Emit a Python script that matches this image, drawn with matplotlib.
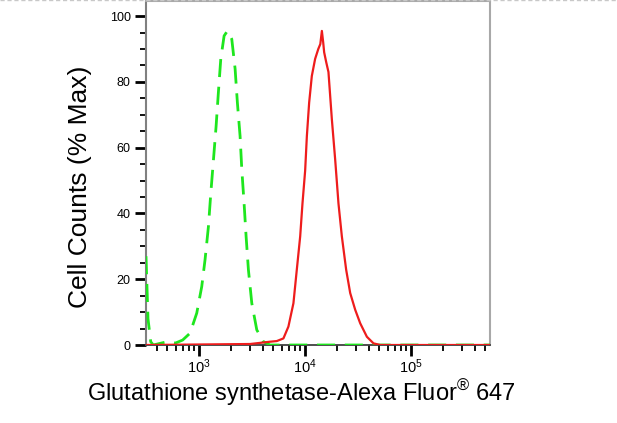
import numpy as np
import matplotlib
matplotlib.use("Agg")
import matplotlib.pyplot as plt
from matplotlib.ticker import LogLocator, NullFormatter, FixedLocator, MultipleLocator
from matplotlib.lines import Line2D

plt.rcParams['font.family'] = ['Liberation Sans', 'DejaVu Sans']
plt.rcParams['mathtext.fontset'] = 'custom'
plt.rcParams['mathtext.rm'] = 'Liberation Sans'
plt.rcParams['mathtext.it'] = 'Liberation Sans'
plt.rcParams['mathtext.bf'] = 'Liberation Sans:bold'

# Isotype / control (green dashed)
green_x = [316, 330, 350, 370, 430, 500, 600, 700, 822, 951, 1060, 1139, 1225, 1289, 1364,
           1447, 1520, 1602, 1722, 1850, 2034, 2186, 2297, 2436, 2528, 2658, 2776,
           2918, 3141, 3500, 4042, 4677, 553000]
green_y = [27, 8, 1, 0, 0.5, 1, 0.6, 1.5, 3.6, 9.7, 17.8, 26, 36, 46, 56,
           66.5, 76.7, 87, 94, 95.5, 93, 84, 73.7, 63.5, 53.4, 43, 33,
           22.9, 12.7, 4.6, 1, 0, 0]

# Antibody stained (red solid)
red_x = [316, 3026, 4677, 5408, 6240, 6955, 7755, 8350, 8978, 9436, 10000, 10380,
         10910, 11560, 12420, 13300, 13900, 14380, 14800, 15110, 15800, 16590, 17860,
         19190, 20620, 22190, 24360, 26590, 29650, 33050, 38200, 44080, 51000, 553000]
red_y = [0, 0.3, 1, 1.2, 2, 5.6, 12.7, 23, 33, 43, 53, 63.5,
         73.7, 81.8, 87, 90, 91.5, 95.5, 92, 89, 86, 83, 68.6,
         56.4, 43, 33, 22.9, 15.8, 10.7, 6.6, 2.5, 0.5, 0, 0]

y_ticks = [0, 20, 40, 60, 80, 100]
x_major = [1e3, 1e4, 1e5]
x_labels = [r'$10^3$', r'$10^4$', r'$10^5$']

W, H = 617, 423
fig = plt.figure(figsize=(W/100, H/100), dpi=100)
ax = fig.add_axes([146/W, 1 - 345/H, (490-146)/W, (345-1)/H])

ax.plot(green_x, green_y, color='#1ee61e', lw=2.0, ls=(0, (6.5, 3.5)), zorder=3)
ax.plot(red_x, red_y, color='#ee1c1c', lw=1.6, zorder=4)

ax.set_xscale('log')
ax.set_xlim(316, 553000)
ax.set_ylim(0, 104.6)

ax.xaxis.set_major_locator(FixedLocator(x_major))
ax.set_xticklabels(x_labels)
ax.xaxis.set_minor_locator(LogLocator(base=10, subs=np.arange(2, 10)))
ax.xaxis.set_minor_formatter(NullFormatter())

ax.yaxis.set_major_locator(FixedLocator(y_ticks))
ax.set_yticklabels([str(v) for v in y_ticks])
ax.yaxis.set_minor_locator(MultipleLocator(5))

ax.tick_params(axis='both', which='major', direction='out', length=8, width=2,
               color='black', labelsize=9, pad=2)
ax.tick_params(axis='x', which='major', labelsize=10.5, pad=1)
ax.tick_params(axis='both', which='minor', direction='out', length=4, width=1.3,
               color='black')
ax.tick_params(axis='y', which='major', pad=3)

ax.spines['left'].set_color('#808080')
ax.spines['left'].set_linewidth(1.5)
ax.spines['bottom'].set_color('#404040')
ax.spines['bottom'].set_linewidth(1.3)
for s in ['top', 'right']:
    ax.spines[s].set_color('#a8a8a8')
    ax.spines[s].set_linewidth(1.5)

fig.text(80/W, 1 - 187/H, 'Cell Counts (% Max)', rotation=90, fontsize=19,
         ha='center', va='center')
fig.text(301/W, 1 - 393/H, 'Glutathione synthetase-Alexa Fluor$^{®}$ 647',
         fontsize=17, ha='center', va='center')

# dashed light border at top of the figure
fig.add_artist(Line2D([0, 1], [0.999, 0.999], transform=fig.transFigure,
                      color='#c8c8c8', lw=1, ls=(0, (3, 2))))

fig.savefig('out.png', dpi=100)
